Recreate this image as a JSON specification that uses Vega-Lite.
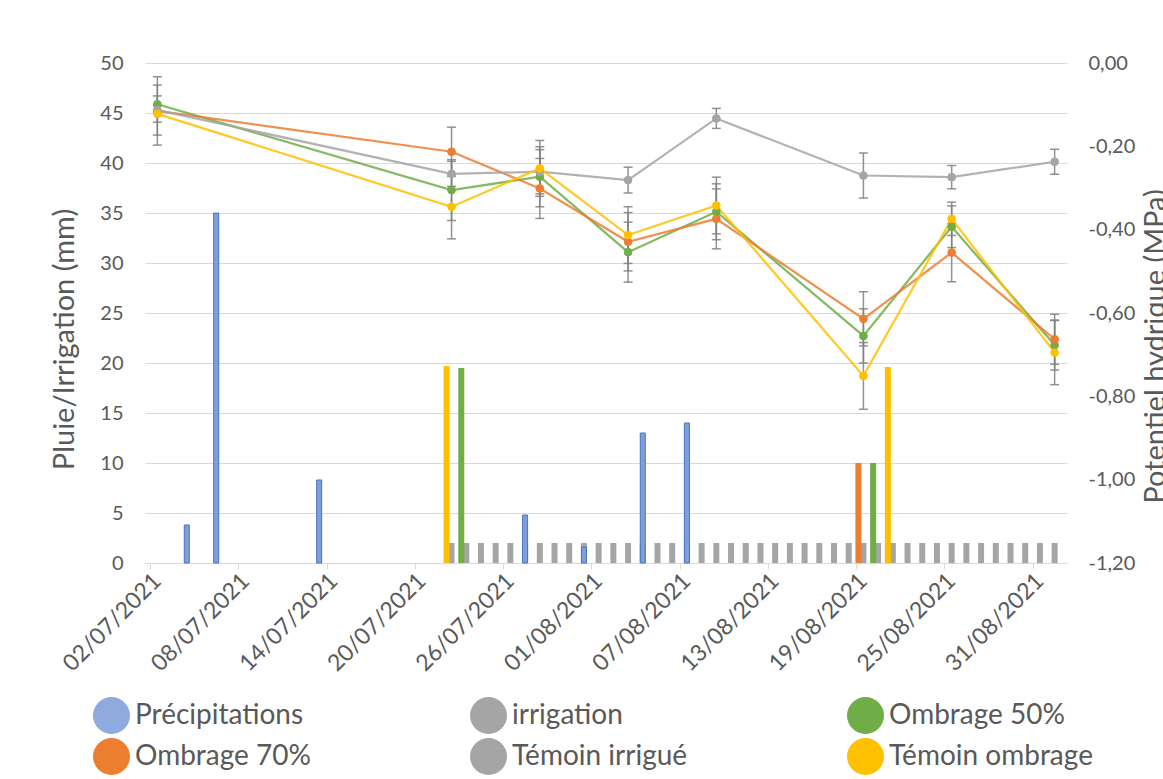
{
  "$schema": "https://vega.github.io/schema/vega-lite/v6.json",
  "width": 922,
  "height": 500,
  "autosize": {"type": "none"},
  "padding": {"left": 145, "top": 63, "right": 96, "bottom": 216},
  "background": "white",
  "data": {
    "values": [
      {"date": "2021-07-02", "serie": "Ombrage 50%", "mpa": -0.099, "lo": -0.119, "hi": -0.079},
      {"date": "2021-07-22", "serie": "Ombrage 50%", "mpa": -0.305, "lo": -0.378, "hi": -0.232},
      {"date": "2021-07-28", "serie": "Ombrage 50%", "mpa": -0.273, "lo": -0.345, "hi": -0.201},
      {"date": "2021-08-03", "serie": "Ombrage 50%", "mpa": -0.454, "lo": -0.526, "hi": -0.382},
      {"date": "2021-08-09", "serie": "Ombrage 50%", "mpa": -0.357, "lo": -0.424, "hi": -0.290},
      {"date": "2021-08-19", "serie": "Ombrage 50%", "mpa": -0.655, "lo": -0.720, "hi": -0.590},
      {"date": "2021-08-25", "serie": "Ombrage 50%", "mpa": -0.393, "lo": -0.443, "hi": -0.343},
      {"date": "2021-09-01", "serie": "Ombrage 50%", "mpa": -0.677, "lo": -0.737, "hi": -0.617},
      {"date": "2021-07-02", "serie": "Ombrage 70%", "mpa": -0.115, "lo": -0.197, "hi": -0.033},
      {"date": "2021-07-22", "serie": "Ombrage 70%", "mpa": -0.213, "lo": -0.272, "hi": -0.154},
      {"date": "2021-07-28", "serie": "Ombrage 70%", "mpa": -0.301, "lo": -0.373, "hi": -0.229},
      {"date": "2021-08-03", "serie": "Ombrage 70%", "mpa": -0.429, "lo": -0.499, "hi": -0.359},
      {"date": "2021-08-09", "serie": "Ombrage 70%", "mpa": -0.374, "lo": -0.446, "hi": -0.302},
      {"date": "2021-08-19", "serie": "Ombrage 70%", "mpa": -0.614, "lo": -0.679, "hi": -0.549},
      {"date": "2021-08-25", "serie": "Ombrage 70%", "mpa": -0.455, "lo": -0.525, "hi": -0.385},
      {"date": "2021-09-01", "serie": "Ombrage 70%", "mpa": -0.663, "lo": -0.723, "hi": -0.603},
      {"date": "2021-07-02", "serie": "Témoin irrigué", "mpa": -0.113, "lo": -0.173, "hi": -0.053},
      {"date": "2021-07-22", "serie": "Témoin irrigué", "mpa": -0.266, "lo": -0.296, "hi": -0.236},
      {"date": "2021-07-28", "serie": "Témoin irrigué", "mpa": -0.261, "lo": -0.314, "hi": -0.208},
      {"date": "2021-08-03", "serie": "Témoin irrigué", "mpa": -0.281, "lo": -0.312, "hi": -0.250},
      {"date": "2021-08-09", "serie": "Témoin irrigué", "mpa": -0.133, "lo": -0.157, "hi": -0.109},
      {"date": "2021-08-19", "serie": "Témoin irrigué", "mpa": -0.270, "lo": -0.324, "hi": -0.216},
      {"date": "2021-08-25", "serie": "Témoin irrigué", "mpa": -0.274, "lo": -0.302, "hi": -0.246},
      {"date": "2021-09-01", "serie": "Témoin irrigué", "mpa": -0.237, "lo": -0.267, "hi": -0.207},
      {"date": "2021-07-02", "serie": "Témoin ombrage", "mpa": -0.122, "lo": -0.142, "hi": -0.102},
      {"date": "2021-07-22", "serie": "Témoin ombrage", "mpa": -0.345, "lo": -0.422, "hi": -0.268},
      {"date": "2021-07-28", "serie": "Témoin ombrage", "mpa": -0.253, "lo": -0.320, "hi": -0.186},
      {"date": "2021-08-03", "serie": "Témoin ombrage", "mpa": -0.413, "lo": -0.481, "hi": -0.345},
      {"date": "2021-08-09", "serie": "Témoin ombrage", "mpa": -0.342, "lo": -0.410, "hi": -0.274},
      {"date": "2021-08-19", "serie": "Témoin ombrage", "mpa": -0.751, "lo": -0.831, "hi": -0.671},
      {"date": "2021-08-25", "serie": "Témoin ombrage", "mpa": -0.374, "lo": -0.414, "hi": -0.334},
      {"date": "2021-09-01", "serie": "Témoin ombrage", "mpa": -0.695, "lo": -0.772, "hi": -0.618}
    ],
    "format": {"parse": {"date": "date:'%Y-%m-%d'"}}
  },
  "config": {
    "font": "Lato",
    "view": {"stroke": null},
    "axis": {
      "labelColor": "#595959",
      "titleColor": "#595959",
      "labelFontSize": 20,
      "titleFontSize": 29,
      "titleFontWeight": "normal",
      "gridColor": "#d9d9d9",
      "domainColor": "#d9d9d9",
      "tickColor": "#d9d9d9"
    },
    "legend": {
      "labelFontSize": 28,
      "labelColor": "#595959",
      "labelLimit": 400
    }
  },
  "encoding": {
    "x": {
      "field": "date",
      "type": "temporal",
      "scale": {"domain": [{"year": 2021, "month": 7, "date": 1, "hours": 12}, {"year": 2021, "month": 9, "date": 1, "hours": 12}]},
      "axis": {
        "title": null,
        "values": [
          {"year": 2021, "month": 7, "date": 1, "hours": 12},
          {"year": 2021, "month": 7, "date": 7, "hours": 12},
          {"year": 2021, "month": 7, "date": 13, "hours": 12},
          {"year": 2021, "month": 7, "date": 19, "hours": 12},
          {"year": 2021, "month": 7, "date": 25, "hours": 12},
          {"year": 2021, "month": 7, "date": 31, "hours": 12},
          {"year": 2021, "month": 8, "date": 6, "hours": 12},
          {"year": 2021, "month": 8, "date": 12, "hours": 12},
          {"year": 2021, "month": 8, "date": 18, "hours": 12},
          {"year": 2021, "month": 8, "date": 24, "hours": 12},
          {"year": 2021, "month": 8, "date": 30, "hours": 12}
        ],
        "labelExpr": "timeFormat(timeOffset('hours', datum.value, 12), '%d/%m/%Y')",
        "labelAngle": -45,
        "labelAlign": "right",
        "labelBaseline": "middle",
        "labelFontSize": 23,
        "labelOffset": 7,
        "labelPadding": 8,
        "tickSize": 6,
        "grid": false,
        "labelOverlap": false,
        "labelFlush": false
      }
    }
  },
  "layer": [
    {
      "data": {
        "values": [
          {"date": "2021-07-22", "mm": 2}, {"date": "2021-07-23", "mm": 2}, {"date": "2021-07-24", "mm": 2},
          {"date": "2021-07-25", "mm": 2}, {"date": "2021-07-26", "mm": 2}, {"date": "2021-07-27", "mm": 2},
          {"date": "2021-07-28", "mm": 2}, {"date": "2021-07-29", "mm": 2}, {"date": "2021-07-30", "mm": 2},
          {"date": "2021-07-31", "mm": 2}, {"date": "2021-08-01", "mm": 2}, {"date": "2021-08-02", "mm": 2},
          {"date": "2021-08-03", "mm": 2}, {"date": "2021-08-04", "mm": 2}, {"date": "2021-08-05", "mm": 2},
          {"date": "2021-08-06", "mm": 2}, {"date": "2021-08-07", "mm": 2}, {"date": "2021-08-08", "mm": 2},
          {"date": "2021-08-09", "mm": 2}, {"date": "2021-08-10", "mm": 2}, {"date": "2021-08-11", "mm": 2},
          {"date": "2021-08-12", "mm": 2}, {"date": "2021-08-13", "mm": 2}, {"date": "2021-08-14", "mm": 2},
          {"date": "2021-08-15", "mm": 2}, {"date": "2021-08-16", "mm": 2}, {"date": "2021-08-17", "mm": 2},
          {"date": "2021-08-18", "mm": 2}, {"date": "2021-08-19", "mm": 2}, {"date": "2021-08-20", "mm": 2},
          {"date": "2021-08-21", "mm": 2}, {"date": "2021-08-22", "mm": 2}, {"date": "2021-08-23", "mm": 2},
          {"date": "2021-08-24", "mm": 2}, {"date": "2021-08-25", "mm": 2}, {"date": "2021-08-26", "mm": 2},
          {"date": "2021-08-27", "mm": 2}, {"date": "2021-08-28", "mm": 2}, {"date": "2021-08-29", "mm": 2},
          {"date": "2021-08-30", "mm": 2}, {"date": "2021-08-31", "mm": 2}, {"date": "2021-09-01", "mm": 2}
        ],
        "format": {"parse": {"date": "date:'%Y-%m-%d'"}}
      },
      "mark": {"type": "bar", "width": 6, "fill": "#A5A5A5"},
      "encoding": {
        "y": {
          "field": "mm",
          "type": "quantitative",
          "scale": {"domain": [0, 50], "nice": false},
          "axis": {
            "title": "Pluie/Irrigation (mm)",
            "orient": "left",
            "values": [0, 5, 10, 15, 20, 25, 30, 35, 40, 45, 50],
            "grid": true,
            "domain": false,
            "ticks": false,
            "labelPadding": 22,
            "titlePadding": 20,
            "titleY": 276
          }
        }
      }
    },
    {
      "data": {
        "values": [
          {"date": "2021-07-04", "mm": 3.8},
          {"date": "2021-07-06", "mm": 35},
          {"date": "2021-07-13", "mm": 8.3},
          {"date": "2021-07-27", "mm": 4.8},
          {"date": "2021-07-31", "mm": 1.6},
          {"date": "2021-08-04", "mm": 13.0},
          {"date": "2021-08-07", "mm": 14.0}
        ],
        "format": {"parse": {"date": "date:'%Y-%m-%d'"}}
      },
      "mark": {"type": "bar", "width": 5, "fill": "#7F9FDC", "stroke": "#4472C4", "strokeWidth": 1},
      "encoding": {
        "y": {"field": "mm", "type": "quantitative", "scale": {"domain": [0, 50], "nice": false}, "axis": null}
      }
    },
    {
      "data": {
        "values": [
          {"date": "2021-07-22", "serie": "Témoin ombrage", "mm": 19.7},
          {"date": "2021-07-23", "serie": "Ombrage 50%", "mm": 19.5},
          {"date": "2021-08-19", "serie": "Ombrage 70%", "mm": 10.0},
          {"date": "2021-08-20", "serie": "Ombrage 50%", "mm": 10.0},
          {"date": "2021-08-21", "serie": "Témoin ombrage", "mm": 19.6}
        ],
        "format": {"parse": {"date": "date:'%Y-%m-%d'"}}
      },
      "mark": {"type": "bar", "width": 6, "xOffset": -5},
      "encoding": {
        "y": {"field": "mm", "type": "quantitative", "scale": {"domain": [0, 50], "nice": false}, "axis": null},
        "color": {
          "field": "serie",
          "type": "nominal",
          "scale": {
            "domain": ["Ombrage 50%", "Ombrage 70%", "Témoin ombrage"],
            "range": ["#70AD47", "#ED7D31", "#FFC000"]
          },
          "legend": null
        }
      }
    },
    {
      "mark": {"type": "rule", "color": "#7f7f7f", "strokeWidth": 1.5, "opacity": 0.85},
      "encoding": {
        "y": {
          "field": "lo",
          "type": "quantitative",
          "scale": {"domain": [-1.2, 0], "nice": false},
          "axis": {
            "orient": "right",
            "title": "Potentiel hydrique (MPa)",
            "values": [-1.2, -1, -0.8, -0.6, -0.4, -0.2, 0],
            "labelExpr": "replace(replace(format(datum.value, '.2f'), '.', ','), '\u2212', '-')",
            "grid": false,
            "domain": false,
            "ticks": false,
            "labelPadding": 21,
            "labelAlign": "left",
            "titleAngle": 270,
            "titleBaseline": "top",
            "titlePadding": 7,
            "titleY": 283
          }
        },
        "y2": {"field": "hi"}
      }
    },
    {
      "mark": {"type": "tick", "orient": "horizontal", "size": 9, "thickness": 1.5, "color": "#7f7f7f", "opacity": 0.85},
      "encoding": {"y": {"field": "lo", "type": "quantitative", "scale": {"domain": [-1.2, 0], "nice": false}, "axis": null}}
    },
    {
      "mark": {"type": "tick", "orient": "horizontal", "size": 9, "thickness": 1.5, "color": "#7f7f7f", "opacity": 0.85},
      "encoding": {"y": {"field": "hi", "type": "quantitative", "scale": {"domain": [-1.2, 0], "nice": false}, "axis": null}}
    },
    {
      "mark": {"type": "line", "strokeWidth": 2.25, "opacity": 0.85},
      "encoding": {
        "y": {"field": "mpa", "type": "quantitative", "scale": {"domain": [-1.2, 0], "nice": false}, "axis": null},
        "stroke": {
          "field": "serie",
          "type": "nominal",
          "scale": {
            "domain": ["Ombrage 50%", "Ombrage 70%", "Témoin irrigué", "Témoin ombrage"],
            "range": ["#70AD47", "#ED7D31", "#A5A5A5", "#FFC000"]
          },
          "legend": null
        }
      }
    },
    {
      "mark": {"type": "point", "filled": true, "size": 60, "opacity": 1, "strokeWidth": 1},
      "encoding": {
        "y": {"field": "mpa", "type": "quantitative", "scale": {"domain": [-1.2, 0], "nice": false}, "axis": null},
        "stroke": {"field": "serie", "type": "nominal", "legend": null},
        "fill": {
          "field": "serie",
          "type": "nominal",
          "scale": {
            "domain": ["Précipitations", "irrigation", "Ombrage 50%", "Ombrage 70%", "Témoin irrigué", "Témoin ombrage"],
            "range": ["#8FAADC", "#A5A5A5", "#70AD47", "#ED7D31", "#A5A5A5", "#FFC000"]
          },
          "legend": {
            "title": null,
            "orient": "none",
            "direction": "horizontal",
            "legendX": -53,
            "legendY": 633,
            "columns": 3,
            "gridAlign": "all",
            "columnPadding": 130,
            "rowPadding": 3,
            "symbolSize": 1369,
            "symbolStrokeWidth": 2,
            "labelOffset": 4,
            "encode": {
              "symbols": {
                "shape": {"value": {"expr": "(datum.value == 'Précipitations' || datum.value == 'irrigation') ? 'M-1,-0.6H1V0.6H-1Z' : 'M-1,0H1M0.22,0A0.22,0.22,0,1,1,-0.22,0A0.22,0.22,0,1,1,0.22,0Z'"}},
                "stroke": {"value": {"expr": "datum.value == 'Précipitations' ? '#4472C4' : datum.value == 'irrigation' ? '#A5A5A5' : datum.value == 'Ombrage 50%' ? '#70AD47' : datum.value == 'Ombrage 70%' ? '#ED7D31' : datum.value == 'Témoin irrigué' ? '#A5A5A5' : '#FFC000'"}},
                "strokeWidth": {"value": 2},
                "opacity": {"value": 1}
              }
            }
          }
        }
      }
    }
  ],
  "resolve": {"scale": {"y": "independent"}}
}
